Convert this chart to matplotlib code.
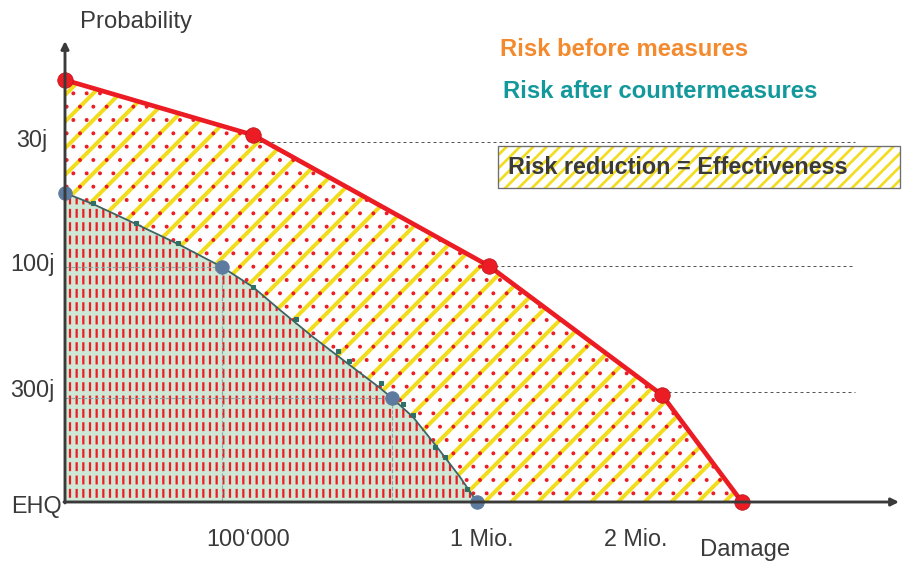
import matplotlib.pyplot as plt
from matplotlib.patches import Rectangle

plt.rcParams['font.family'] = ['Liberation Sans', 'DejaVu Sans']

# risk curve before measures (damage units, probability units of the sketch)
before_x = [0, 188, 424, 597, 677]
before_y = [422, 367, 236, 107, 0]

# risk curve after countermeasures
after_x = [0, 28, 71, 113, 157, 188, 215, 248, 282, 315, 327, 348, 372, 395, 412]
after_y = [309, 298, 278, 258, 235, 215, 192, 165, 139, 114, 104, 85, 55, 25, 0]
after_pts_x = [0, 157, 327, 412]
after_pts_y = [309, 235, 104, 0]

# small square marks beside the after curve
sq_x = [28, 71, 113, 188, 231, 273, 284, 316, 338, 348, 370, 380, 402]
sq_y = [299, 279, 259, 215, 183, 151, 141, 119, 98, 87, 55, 45, 13]

prob_levels = [360, 236, 110]
prob_labels = ['30j', '100j', '300j']
damage_ticks = [183, 417, 571]
damage_labels = ['100\u2018000', '1 Mio.', '2 Mio.']

YELLOW = '#f2dc1e'
RED = '#ec1c24'
GREEN = '#cfe7d5'
DARK = '#3a3a3a'

fig = plt.figure(figsize=(903 / 80, 565 / 80), dpi=80)
ax = fig.add_axes([0, 0, 1, 1])
ax.set_xlim(-65, 838)
ax.set_ylim(-63, 502)
ax.axis('off')

# area before measures: yellow stripes + red dots
plt.rcParams['hatch.linewidth'] = 3.6
ax.fill([0] + before_x, [0] + before_y, facecolor='white', edgecolor=YELLOW,
        hatch='/', linewidth=0, zorder=1)
plt.rcParams['hatch.linewidth'] = 1.1
ax.fill([0] + before_x, [0] + before_y, facecolor='none', edgecolor=RED,
        hatch='.', linewidth=0, zorder=2)

# area after countermeasures: light green with red checks
plt.rcParams['hatch.linewidth'] = 2.0
ax.fill([0] + after_x, [0] + after_y, facecolor=GREEN, edgecolor=RED,
        hatch='||', linewidth=0, zorder=3)
plt.rcParams['hatch.linewidth'] = 4.0
ax.fill([0] + after_x, [0] + after_y, facecolor='none', edgecolor=GREEN,
        hatch='-', linewidth=0, zorder=3)

# projection lines of the after points
for x, y in zip(after_pts_x[1:3], after_pts_y[1:3]):
    ax.plot([0, x], [y, y], ls='--', color='#8fa6a6', lw=1, zorder=4)
    ax.plot([x, x], [y, 0], ls='--', color='#8fa6a6', lw=1, zorder=4)

# dashed probability reference lines
for x, y in zip(before_x[1:4], prob_levels):
    ax.plot([x, 790], [y, y], ls=(0, (3, 3)), color='#555555', lw=0.9, zorder=4)

# curves
ax.plot(after_x, after_y, color='#3d6363', lw=1.6, zorder=5)
ax.plot(sq_x, sq_y, ls='none', marker='s', ms=3.5, color='#2f6f66', zorder=5)
ax.plot(after_pts_x, after_pts_y, ls='none', marker='o', ms=12,
        color='#5d7b9f', zorder=5)
ax.plot(before_x, before_y, color=RED, lw=4.2, zorder=6,
        solid_capstyle='round')
ax.plot(before_x, before_y, ls='none', marker='o', ms=14, color=RED,
        markeredgecolor='#b0141a', markeredgewidth=0.6, zorder=7)

# axes with arrows
ax.annotate('', xy=(0, 461), xytext=(0, -1),
            arrowprops=dict(arrowstyle='-|>', color=DARK, lw=2.6,
                            mutation_scale=14, shrinkA=0, shrinkB=0), zorder=8)
ax.annotate('', xy=(834, 0), xytext=(-1, 0),
            arrowprops=dict(arrowstyle='-|>', color=DARK, lw=2.6,
                            mutation_scale=14, shrinkA=0, shrinkB=0), zorder=8)

# labels
ax.text(15, 480, 'Probability', fontsize=21.5, color=DARK, ha='left', va='center')
ax.text(680, -48, 'Damage', fontsize=21.5, color=DARK, ha='center', va='center')
for y, lab in zip(prob_levels, prob_labels):
    ax.text(-33, y + 2, lab, fontsize=21, color=DARK, ha='center', va='center')
ax.text(-29, -5, 'EHQ', fontsize=21, color=DARK, ha='center', va='center')
for x, lab in zip(damage_ticks, damage_labels):
    ax.text(x, -37, lab, fontsize=21, color=DARK, ha='center', va='center')

ax.text(435, 452, 'Risk before measures', fontsize=21.5, fontweight='bold',
        color='#f48a2e', ha='left', va='center')
ax.text(438, 410, 'Risk after countermeasures', fontsize=21.5, fontweight='bold',
        color='#13999b', ha='left', va='center')

plt.rcParams['hatch.linewidth'] = 2.4
ax.add_patch(Rectangle((433, 314), 402, 42, facecolor='white',
                       edgecolor=YELLOW, hatch='//', linewidth=0, zorder=8))
ax.add_patch(Rectangle((433, 314), 402, 42, facecolor='none',
                       edgecolor='#6e6e6e', linewidth=1.2, zorder=9))
ax.text(443, 335, 'Risk reduction = Effectiveness', fontsize=21,
        fontweight='bold', color=DARK, ha='left', va='center', zorder=10)

fig.savefig('out.png', dpi=80)
